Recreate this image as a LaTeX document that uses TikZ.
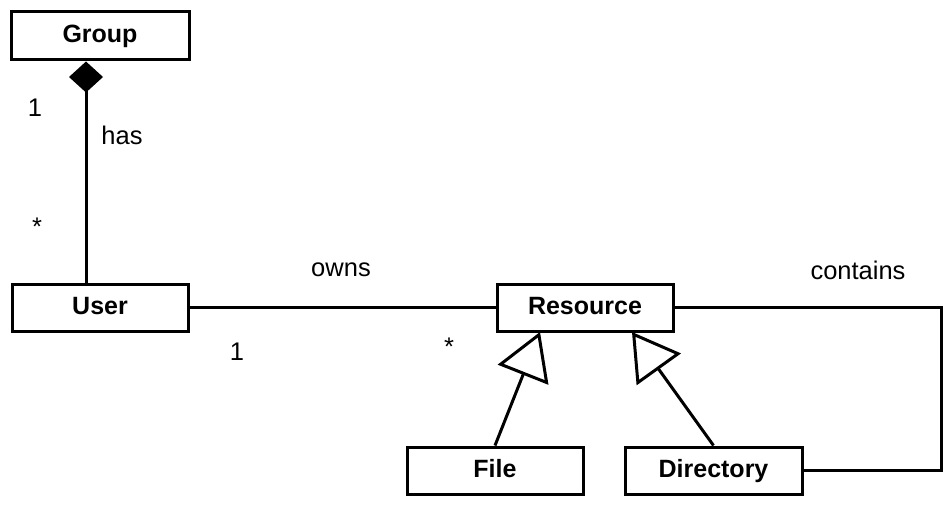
\documentclass[tikz,border=0pt]{standalone}
\usepackage{fontspec}
\setmainfont{Liberation Sans}
\usetikzlibrary{arrows.meta}
\begin{document}
\begin{tikzpicture}[x=1pt,y=-1pt,
  cls/.style={draw,line width=3pt,minimum width=176pt,minimum height=47pt,inner sep=0pt,text height=19pt,text depth=6pt,font=\fontsize{25}{30}\selectfont\bfseries},
  lbl/.style={font=\fontsize{25.5}{30}\selectfont,inner sep=0pt},
  conn/.style={line width=3pt},
  gen/.style={conn,-{Triangle[open,length=46pt,width=54pt,line width=3pt]}},
  comp/.style={conn,-{Diamond[length=31pt,width=34pt]}}]
\useasboundingbox (0,0) rectangle (952,508);
\node[cls,minimum width=178pt,minimum height=48pt] (group) at (100,36) {Group};
\node[cls] (user) at (100,307.5) {User};
\node[cls,minimum height=47pt] (res) at (585,307.5) {Resource};
\node[cls] (file) at (495,470.5) {File};
\node[cls,minimum width=177pt] (dir) at (713.5,470.5) {Directory};
\coordinate (c1) at (941,307.5);
\coordinate (c2) at (941,470);
\coordinate (rf) at (540,332);
\coordinate (rd) at (632,332);
\draw[comp] (user.north -| 86,0) -- (group.south -| 86,0);
\draw[conn] (user.east) -- (res.west);
\draw[conn] (res.east) -- (c1) -- (c2) -- (dir.east |- c2);
\draw[gen] (file.north) -- (rf);
\draw[gen] (dir.north) -- (rd);
\node[lbl] (l1) at (35,108) {1};
\node[lbl] (l2) at (122,135) {has};
\node[lbl] (l3) at (37,227) {*};
\node[lbl] (l4) at (341,270) {owns};
\node[lbl] (l5) at (237,352) {1};
\node[lbl] (l6) at (449,347) {*};
\node[lbl] (l7) at (858,270) {contains};
\end{tikzpicture}
\end{document}
